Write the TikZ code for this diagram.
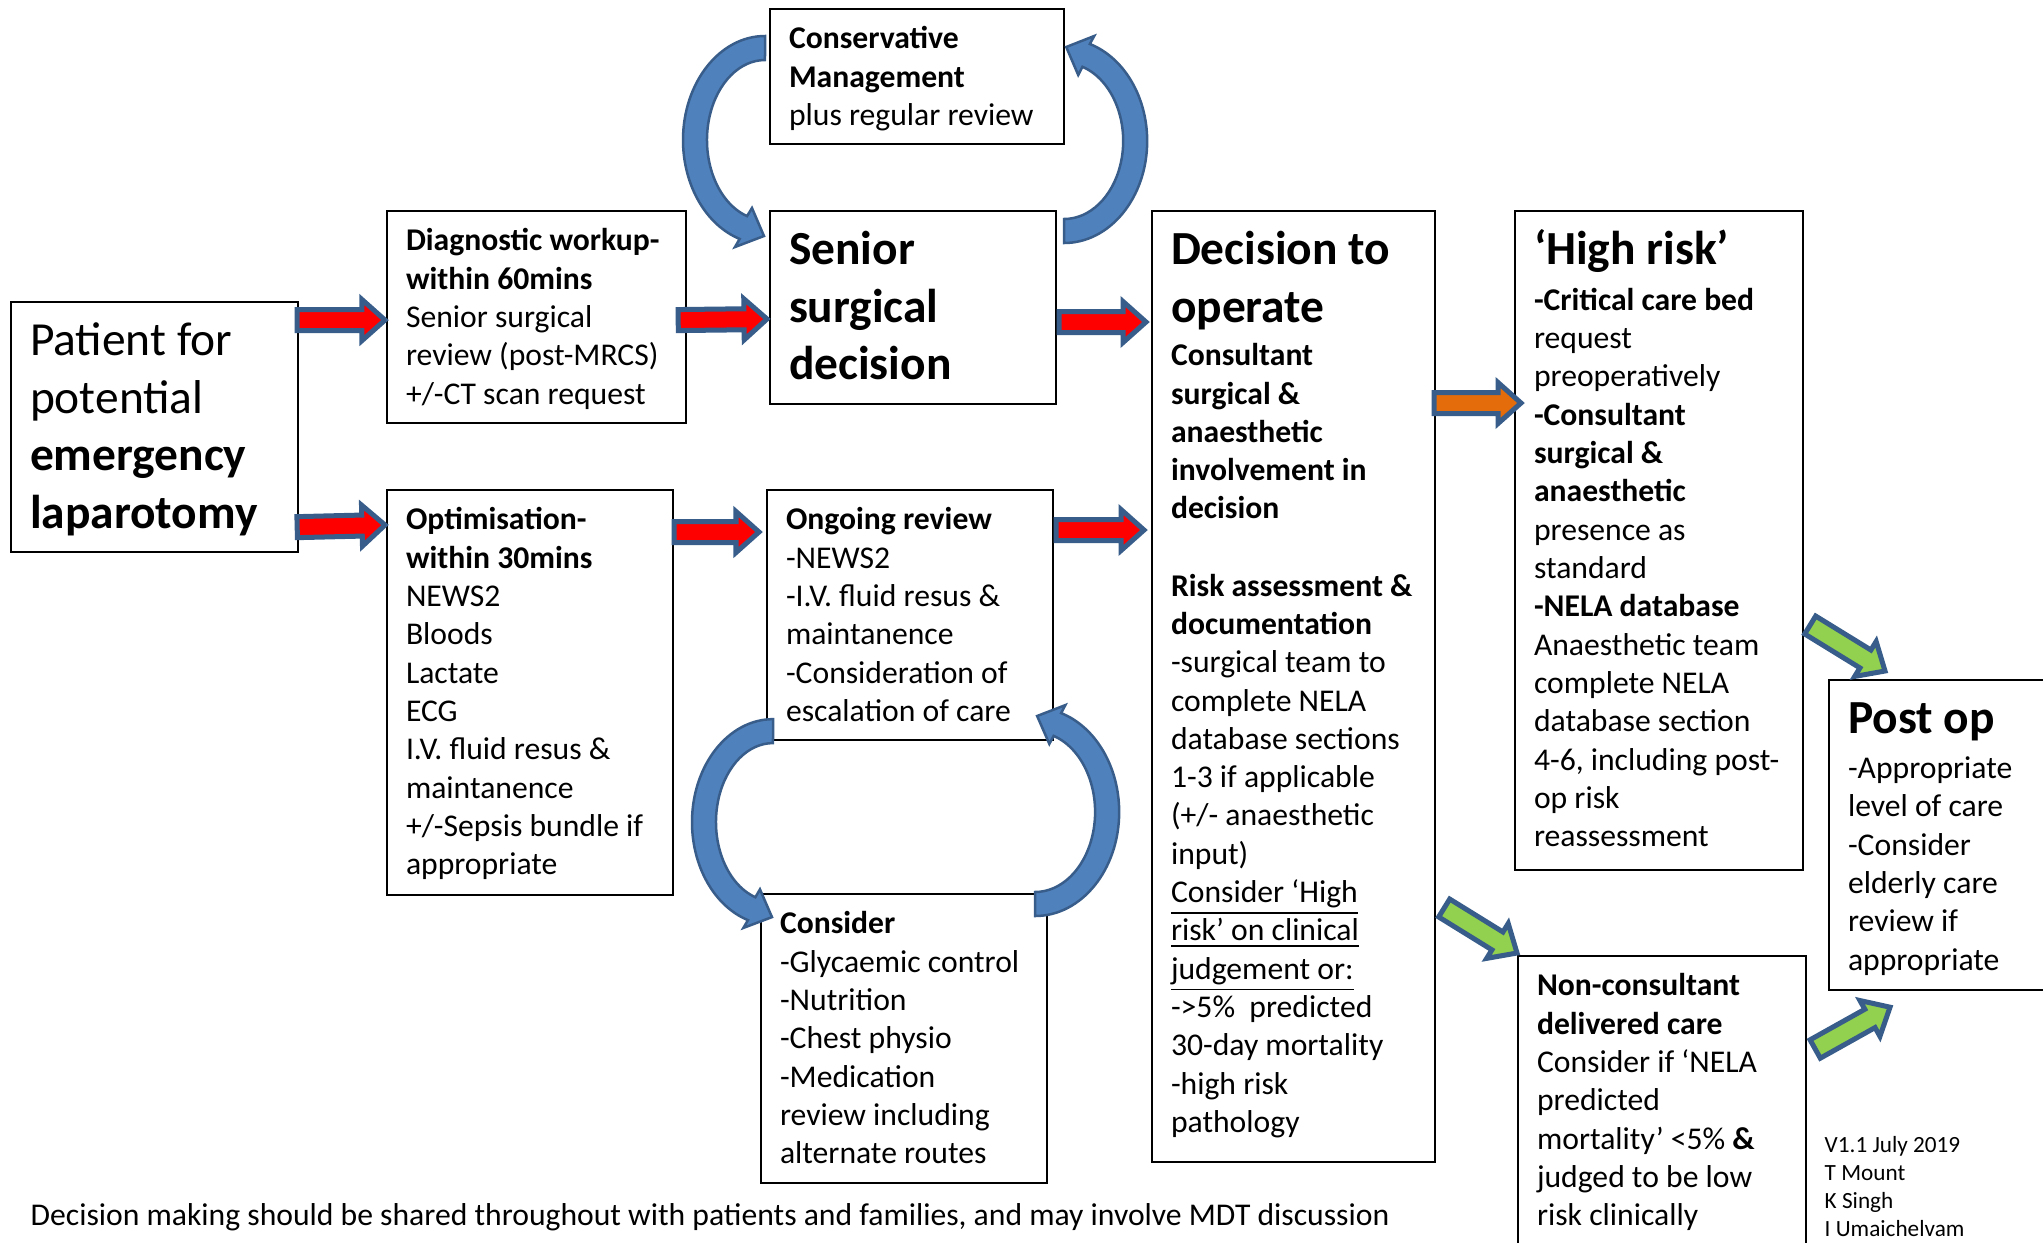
\documentclass[tikz,border=0pt]{standalone}
\usepackage{fontspec}
\setmainfont{Carlito}
\usetikzlibrary{calc}
\definecolor{arrowedge}{RGB}{56,93,138}
\definecolor{curvefill}{RGB}{79,129,189}
\definecolor{redfill}{RGB}{255,0,0}
\definecolor{orangefill}{RGB}{228,108,10}
\definecolor{greenfill}{RGB}{146,208,80}

\begin{document}
\begin{tikzpicture}[x=0.01cm, y=-0.01cm,
    box/.style={draw, fill=white, line width=0.02cm, anchor=north west,
      inner xsep=0.19cm, inner ysep=0.13cm, font=\fontsize{9}{10.9}\selectfont},
    bigbox/.style={box, font=\fontsize{13.5}{16.4}\selectfont},
    blockarrow/.style={draw=arrowedge, fill=#1, line width=0.05cm, line join=miter,
      to path={($(\tikztostart)!0.105cm!90:(\tikztotarget)$)
        -- ($(\tikztotarget)!0.23cm!(\tikztostart)!0.105cm!90:(\tikztotarget)$)
        -- ($(\tikztotarget)!0.23cm!(\tikztostart)!0.205cm!90:(\tikztotarget)$)
        -- (\tikztotarget)
        -- ($(\tikztotarget)!0.23cm!(\tikztostart)!0.205cm!-90:(\tikztotarget)$)
        -- ($(\tikztotarget)!0.23cm!(\tikztostart)!0.105cm!-90:(\tikztotarget)$)
        -- ($(\tikztostart)!0.105cm!-90:(\tikztotarget)$) -- cycle}},
    curvedarrow/.style={draw=arrowedge, fill=curvefill, line width=0.025cm}]
  \useasboundingbox (0,0) rectangle (2043,1242);
  \clip (0,0) rectangle (2043,1242);

  \node[bigbox] (pat) at (10,301) {\parbox[t][2.24cm][t]{2.49cm}{\raggedright\strut
    Patient for\\potential\\\textbf{emergency}\\\textbf{laparotomy}}};
  \node[box] (diag) at (386,210) {\parbox[t][1.86cm][t]{2.61cm}{\raggedright\strut
    \textbf{Diagnostic workup-}\\\textbf{within 60mins}\\Senior surgical\\review (post-MRCS)\\+/-CT scan request}};
  \node[box] (opt) at (386,489) {\parbox[t][3.79cm][t]{2.48cm}{\raggedright\strut
    \textbf{Optimisation-}\\\textbf{within 30mins}\\NEWS2\\Bloods\\Lactate\\ECG\\I.V. fluid resus \&\\maintanence\\+/-Sepsis bundle if\\appropriate}};
  \node[box] (cons) at (769,8) {\parbox[t][1.09cm][t]{2.56cm}{\raggedright\strut
    \textbf{Conservative}\\\textbf{Management}\\plus regular review}};
  \node[bigbox] (senior) at (769,210) {\parbox[t][1.67cm][t]{2.48cm}{\raggedright\bfseries\strut
    Senior\\surgical\\decision}};
  \node[box] (ongoing) at (766,489) {\parbox[t][2.24cm][t]{2.48cm}{\raggedright\strut
    \textbf{Ongoing review}\\-NEWS2\\-I.V. fluid resus \&\\maintanence\\-Consideration of\\escalation of care}};
  \node[box] (consider) at (760,893) {\parbox[t][2.63cm][t]{2.48cm}{\raggedright\strut
    \textbf{Consider}\\-Glycaemic control\\-Nutrition\\-Chest physio\\-Medication\\review including\\alternate routes}};
  \node[box] (decision) at (1151,210) {\parbox[t][9.24cm][t]{2.45cm}{\raggedright
    {\fontsize{13.5}{16.4}\selectfont\bfseries\strut Decision to\\operate\par}\vspace{1.5pt}
    \textbf{Consultant}\\\textbf{surgical \&}\\\textbf{anaesthetic}\\\textbf{involvement in}\\\textbf{decision}\\[11pt]
    \textbf{Risk assessment \&}\\\textbf{documentation}\\-surgical team to\\complete NELA\\database sections\\1-3 if applicable\\(+/- anaesthetic\\input)\\
    \underline{Consider ‘High}\\\underline{risk’ on clinical}\\\underline{judgement or:}\\
    ->5\%\ \ predicted\\30-day mortality\\-high risk\\pathology}};
  \node[box] (highrisk) at (1514,210) {\parbox[t][6.33cm][t]{2.50cm}{\raggedright
    {\fontsize{13.5}{16.4}\selectfont\bfseries\strut ‘High risk’\par}\vspace{0.8pt}
    \textbf{-Critical care bed}\\request\\preoperatively\\\textbf{-Consultant}\\\textbf{surgical \&}\\\textbf{anaesthetic}\\presence as\\standard\\
    \textbf{-NELA database}\\Anaesthetic team\\complete NELA\\database section\\4-6, including post-\\op risk\\reassessment}};
  \node[box] (noncons) at (1517,955) {\parbox[t][2.84cm][t]{2.50cm}{\raggedright\strut
    \textbf{Non-consultant}\\\textbf{delivered care}\\Consider if ‘NELA\\predicted\\mortality’ <5\% \textbf{\&}\\judged to be low\\risk clinically}};
  \node[box] (postop) at (1828,679) {\parbox[t][2.84cm][t]{2.02cm}{\raggedright
    {\fontsize{13.5}{16.4}\selectfont\bfseries\strut Post op\par}\vspace{0.7pt}
    -Appropriate\\level of care\\-Consider\\elderly care\\review if\\appropriate}};
  \node[anchor=north west, inner sep=0] (version) at (1824,1132) {\parbox[t]{2cm}{\fontsize{6.6}{8}\selectfont\strut
    V1.1 July 2019\\T Mount\\K Singh\\I Umaichelvam}};
  \node[anchor=base west, inner sep=0, font=\fontsize{9}{10.9}\selectfont] (note) at (30,1225)
    {Decision making should be shared throughout with patients and families, and may involve MDT discussion};

  \draw[blockarrow=redfill] ($(pat.east |- diag.west)+(-2,3)$) to ($(diag.west)+(-1,3)$);
  \draw[blockarrow=redfill] ($(pat.south east)+(-2,-26)$) to ($(opt.north west)+(-1,36)$);
  \draw[blockarrow=redfill] ($(diag.east)+(-9,3)$) to ($(senior.north west)+(-2,109)$);
  \draw[blockarrow=redfill] ($(opt.north east)+(0,43)$) to ($(ongoing.north west)+(-7,43)$);
  \draw[blockarrow=redfill] ($(senior.north east)+(2,112)$) to ($(decision.north west)+(-5,112)$);
  \draw[blockarrow=redfill] ($(ongoing.north east)+(2,41)$) to ($(decision.north west)+(-7,320)$);
  \draw[blockarrow=orangefill] ($(decision.north east)+(-2,193)$) to ($(highrisk.north west)+(7,193)$);
  \draw[blockarrow=greenfill] ($(highrisk.north east)+(6,415)$) to ($(postop.north west)+(57,-8)$);
  \draw[blockarrow=greenfill] ($(decision.north east)+(8,698)$) to ($(noncons.north west)+(0,-2)$);
  \draw[blockarrow=greenfill] ($(noncons.north east)+(8,94)$) to ($(postop.south west)+(62,16)$);

  \draw[curvedarrow] ($(cons.north west)+(-4,28)$) arc[start angle=270, end angle=108, x radius=82, y radius=104]
    -- ++(-4.7,8.1) -- ++(29,-11) -- ++(-12,-28) -- ++(-4.9,8.1)
    arc[start angle=108, end angle=270, x radius=58, y radius=80] -- cycle;
  \draw[curvedarrow] ($(senior.north east)+(7,33)$) arc[start angle=90, end angle=-72, x radius=83, y radius=102]
    -- ++(4.4,-8) -- ++(-28,11) -- ++(12,28) -- ++(4.2,-8.2)
    arc[start angle=-72, end angle=90, x radius=59, y radius=78] -- cycle;
  \draw[curvedarrow] ($(ongoing.south west)+(7,-22)$) arc[start angle=270, end angle=108, x radius=81, y radius=103]
    -- ++(-4.6,7.8) -- ++(28.6,-10.8) -- ++(-12,-27.8) -- ++(-4.6,7.9)
    arc[start angle=108, end angle=270, x radius=57, y radius=79] -- cycle;
  \draw[curvedarrow] ($(consider.north east)+(-13,23)$) arc[start angle=90, end angle=-72, x radius=84, y radius=104]
    -- ++(4.2,-8) -- ++(-28.2,10.9) -- ++(12.2,27.9) -- ++(4.3,-8)
    arc[start angle=-72, end angle=90, x radius=60, y radius=80] -- cycle;
\end{tikzpicture}
\end{document}
